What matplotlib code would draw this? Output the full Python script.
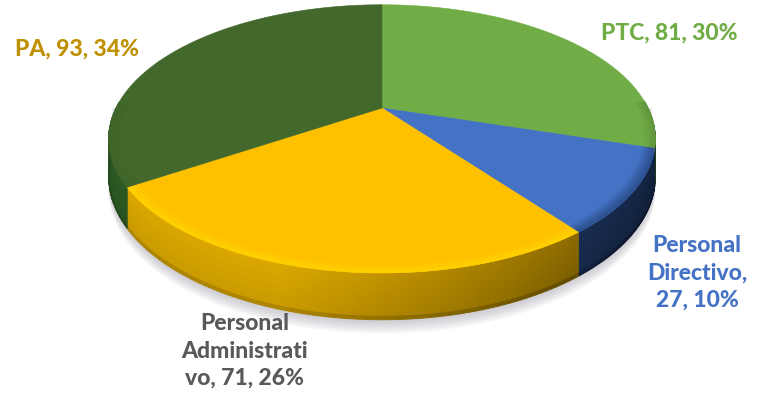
import numpy as np
import matplotlib
matplotlib.use("Agg")
import matplotlib.pyplot as plt
from matplotlib.colors import to_rgb

plt.rcParams['font.family'] = ['Lato', 'DejaVu Sans']

# slices, clockwise from 12 o'clock
names = ['PTC', 'Personal Directivo', 'Personal Administrativo', 'PA']
values = [81, 27, 71, 93]
percents = [30, 10, 26, 34]
label_lines = [['PTC, 81, 30%'],
               ['Personal', 'Directivo,', '27, 10%'],
               ['Personal', 'Administrati', 'vo, 71, 26%'],
               ['PA, 93, 34%']]
colors = ['#70AD47', '#4472C4', '#FFC000', '#43682B']
side_colors = ['#5F933C', '#284A86', '#E6B000', '#2F5F25']
rim_colors = ['#6FA844', '#3A63AE', '#FFD400', '#3F6428']
label_colors = ['#70AD47', '#4472C4', '#595959', '#BF9000']
label_pos = [(669, 33), (697, 273), (245, 351), (77, 49)]

# fake 3d: perspective squash of the unit circle
cx, cy = 382, 108
rx, ry, k = 266, 127, 0.23
depth = 36


def project(t, r=1.0):
    u, v = r * np.cos(t), r * np.sin(t)
    d = 1 + k * v
    return cx + rx * u / d, cy - ry * v / d


def drop(t):
    return depth / (1 + k * np.sin(t))


def mix(c1, c2, f):
    return tuple(np.array(to_rgb(c1)) * (1 - f) + np.array(to_rgb(c2)) * f)


fig = plt.figure(figsize=(7.65, 4.0), dpi=100)
ax = fig.add_axes([0, 0, 1, 1])
ax.set_xlim(0, 765)
ax.set_ylim(400, 0)
ax.axis('off')

edges = 90 - 360 * np.cumsum([0] + values) / sum(values)

# soft shadow under the pie
tt = np.radians(np.linspace(0, -180, 200))
sx, sy = project(tt)
sy = sy + drop(tt)
for off in np.linspace(14, 1, 14):
    ax.fill(np.r_[sx[0] + off / 3, sx, sx[-1] - off / 3],
            np.r_[cy, sy + off, cy],
            color='#8A8A9A', alpha=0.035, lw=0, zorder=1)

# side wall first, only the front half shows
for i in range(len(values)):
    ts = np.radians(np.linspace(edges[i], edges[i + 1], 90))
    for a, b in zip(ts[:-1], ts[1:]):
        if np.sin((a + b) / 2) > 0.05:
            continue
        xa, ya = project(a)
        xb, yb = project(b)
        # light comes from the left, wall gets darker to the right
        across = np.cos((a + b) / 2)
        f = 0.05 + 0.38 * max(across + 0.3, 0)
        steps = np.linspace(0, 1, 15)
        for s0, s1 in zip(steps[:-1], steps[1:]):
            g = f + 0.08 * s0 + (0.12 if s0 > 0.9 else 0)
            ax.fill([xa, xb, xb, xa],
                    [ya + s0 * drop(a), yb + s0 * drop(b),
                     yb + s1 * drop(b), ya + s1 * drop(a)],
                    color=mix(side_colors[i], '#000000', min(g, 0.7)),
                    lw=0.7, zorder=2)

# top face
for i in range(len(values)):
    ts = np.radians(np.linspace(edges[i], edges[i + 1], 120))
    xs, ys = project(ts)
    ax.fill(np.r_[cx, xs], np.r_[cy, ys], color=colors[i], lw=0.4, zorder=3)

    # bevel along the front edge: bright on the left, dull on the right
    rings = np.linspace(0.95, 1.0, 6)
    for r0, r1 in zip(rings[:-1], rings[1:]):
        w = (r0 - 0.95) / 0.05
        xo, yo = project(ts, r1)
        xn, yn = project(ts, r0)
        front = np.sin(ts) < 0.05
        if not front.any():
            continue
        tone = rim_colors[i] if np.cos(ts[front].mean()) < 0.6 else side_colors[i]
        ax.fill(np.r_[xo[front], xn[front][::-1]],
                np.r_[yo[front], yn[front][::-1]],
                color=mix(colors[i], tone, w), lw=0.3, zorder=4)

for lines, c, pos in zip(label_lines, label_colors, label_pos):
    ax.text(pos[0], pos[1], '\n'.join(lines), color=c, fontsize=16.5,
            fontweight='black', ha='center', va='center', linespacing=1.36, zorder=5)

fig.savefig('out.png', dpi=100)
